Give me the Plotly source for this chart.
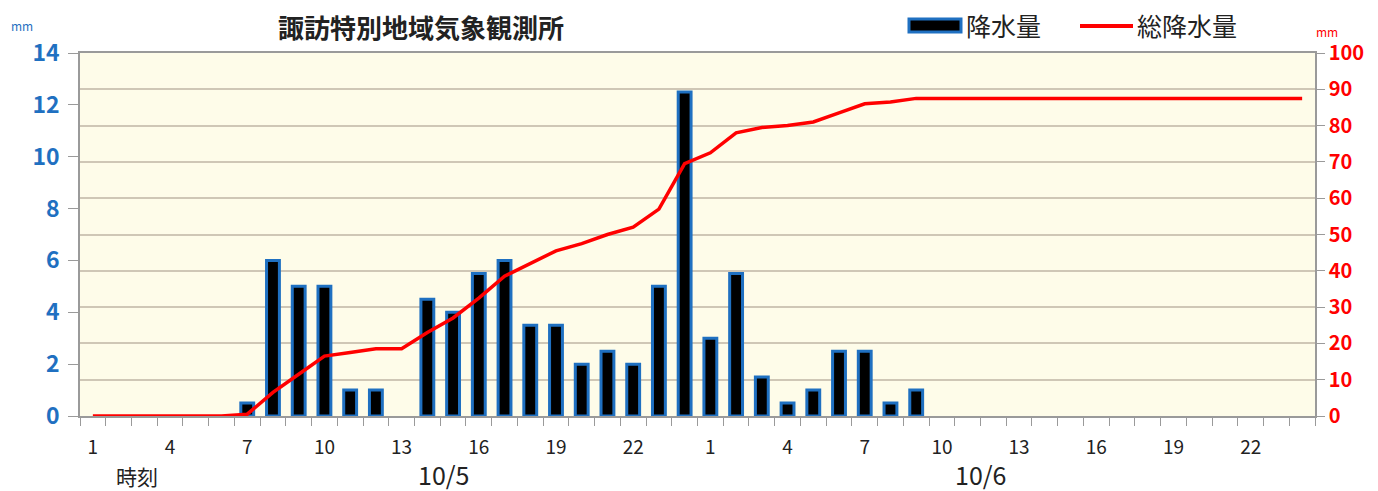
import plotly.graph_objects as go

# hourly categories: 10/5 1..24, 10/6 1..24
hours = list(range(1, 25)) + list(range(1, 25))
days = ["10/5"] * 24 + ["10/6"] * 24

# hourly precipitation (mm)
rain = [0, 0, 0, 0, 0, 0, 0.5, 6, 5, 5, 1, 1, 0, 4.5, 4, 5.5, 6, 3.5, 3.5, 2, 2.5, 2, 5, 12.5,
        3, 5.5, 1.5, 0.5, 1, 2.5, 2.5, 0.5, 1, 0, 0, 0, 0, 0, 0, 0, 0, 0, 0, 0, 0, 0, 0, 0]

# cumulative precipitation (mm)
total = [0, 0, 0, 0, 0, 0, 0.5, 6.5, 11.5, 16.5, 17.5, 18.5, 18.5, 23, 27, 32.5, 38.5, 42, 45.5, 47.5, 50, 52, 57, 69.5,
         72.5, 78, 79.5, 80, 81, 83.5, 86, 86.5, 87.5, 87.5, 87.5, 87.5, 87.5, 87.5, 87.5, 87.5, 87.5, 87.5, 87.5, 87.5,
         87.5, 87.5, 87.5, 87.5]

tick_hours = [1, 4, 7, 10, 13, 16, 19, 22]

FONT = "Noto Sans CJK JP"
BLUE = "#1F70C1"
RED = "#FF0000"

# page offset (browser body margin) and plot-area geometry in page pixels
OFF = 8
W, H = 1378 - OFF, 491 - OFF
L, R, T, B = 80, 1315, 53, 416
def px(xp): return (xp - L) / (R - L)
def py(yp): return (B - yp) / (B - T)

x = list(range(1, len(hours) + 1))
tickvals = [i for i, h in zip(x, hours) if h in tick_hours]
ticktext = [str(hours[i - 1]) for i in tickvals]

fig = go.Figure()
fig.add_trace(go.Bar(
    x=[xi for xi, r in zip(x, rain) if r > 0],
    y=[r for r in rain if r > 0],
    name="降水量", width=0.5,
    marker=dict(color="#000000", line=dict(color=BLUE, width=3)),
    yaxis="y",
))
fig.add_trace(go.Scatter(
    x=x, y=total, name="総降水量", mode="lines",
    line=dict(color=RED, width=3.5), yaxis="y2",
))

fig.update_layout(
    width=W, height=H,
    margin=dict(l=L - OFF, r=W - (R - OFF), t=T - OFF, b=H - (B - OFF), autoexpand=False),
    paper_bgcolor="white",
    plot_bgcolor="#FEFCE9",
    font=dict(family=FONT, color="#222222"),
    showlegend=False,
    xaxis=dict(
        range=[0.5, len(x) + 0.5], tickvals=tickvals, ticktext=ticktext,
        ticks="", showgrid=False, tickfont=dict(size=19, color="#222222"),
        ticklabelstandoff=13,
        showline=True, linecolor="#9A9A9A", linewidth=1.5, mirror=True,
        minor=dict(tick0=0.5, dtick=1, ticks="outside", ticklen=8, tickcolor="#9A9A9A", showgrid=False),
        zeroline=False,
    ),
    yaxis=dict(
        range=[0, 14], dtick=2, showgrid=False, zeroline=False,
        tickfont=dict(size=23, color=BLUE, family=FONT), ticks="outside", ticklen=10, tickcolor="#9A9A9A",
        tickprefix="<b>", ticksuffix="</b>", ticklabelstandoff=4,
        showline=True, linecolor="#9A9A9A", linewidth=1.5,
    ),
    yaxis2=dict(
        range=[0, 100], dtick=10, overlaying="y", side="right",
        showgrid=True, gridcolor="#CFC7B6", gridwidth=1.5, zeroline=False,
        tickfont=dict(size=20, color=RED, family=FONT), ticks="outside", ticklen=8, tickcolor="#9A9A9A",
        tickprefix="<b>", ticksuffix="</b>",
        showline=True, linecolor="#9A9A9A", linewidth=1.5,
    ),
)

def note(text, xp, yp, size, color="#222222", xanchor="center"):
    fig.add_annotation(text=text, xref="paper", yref="paper", x=px(xp), y=py(yp),
                       xanchor=xanchor, yanchor="middle", showarrow=False, borderpad=0,
                       font=dict(size=size, color=color, family=FONT))

note("<b>諏訪特別地域気象観測所</b>", 421, 27, 26)
note("mm", 22, 25, 12, BLUE)
note("mm", 1327, 31, 12, RED)
note("時刻", 137, 476, 21)
note("10/5", 444, 474, 25)
note("10/6", 980, 474, 25)

# custom legend
fig.add_shape(type="rect", xref="paper", yref="paper", x0=px(909), x1=px(961), y0=py(32), y1=py(19),
              fillcolor="#000000", line=dict(color=BLUE, width=3))
note("降水量", 965, 25, 25, xanchor="left")
fig.add_shape(type="line", xref="paper", yref="paper", x0=px(1080), x1=px(1133), y0=py(26), y1=py(26),
              line=dict(color=RED, width=4))
note("総降水量", 1136, 25, 25, xanchor="left")

fig.write_html("out.html")
